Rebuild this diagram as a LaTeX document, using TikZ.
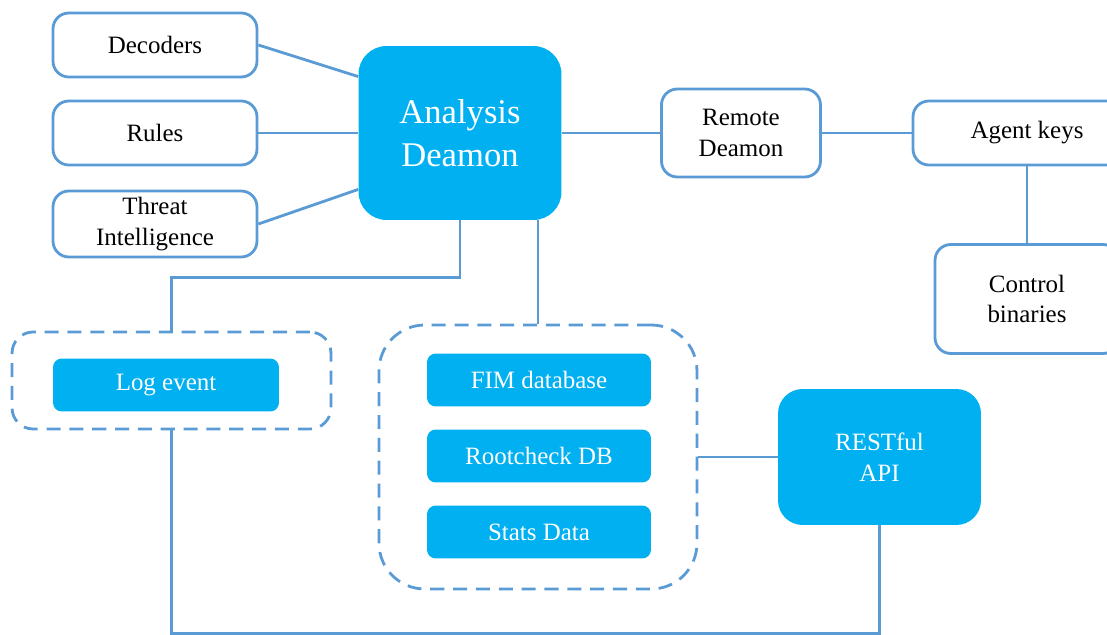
\documentclass[tikz,border=0pt]{standalone}
\usepackage{fontspec}
\setmainfont{Liberation Serif}
\newfontfamily\diagfont{Liberation Serif}
\usepackage{tikz}
\definecolor{edgeblue}{HTML}{5B9BD5}
\definecolor{fillcyan}{HTML}{00B0F0}
\tikzset{
    link/.style={draw=edgeblue, line width=1.6pt},
    whitebox/.style={draw=edgeblue, line width=1.6pt, fill=white, rounded corners=9pt, align=center, inner sep=0pt, font=\diagfont\fontsize{14.2}{17.6}\selectfont},
    cyanbox/.style={fill=fillcyan, text=white, rounded corners=5pt, align=center, inner sep=0pt, font=\diagfont\fontsize{14.2}{17.6}\selectfont},
    dashbox/.style={draw=edgeblue, line width=1.6pt, dash pattern=on 8pt off 5pt, rounded corners=12pt, inner sep=0pt}
}
\begin{document}
\begin{tikzpicture}[x=0.02cm, y=-0.02cm]
        \useasboundingbox (0,0) rectangle (1107,635);
        \node[whitebox, minimum width=4.08cm, minimum height=1.28cm] (dec) at (155,45) {Decoders};
        \node[whitebox, minimum width=4.08cm, minimum height=1.28cm] (rules) at (155,133) {Rules};
        \node[whitebox, minimum width=4.08cm, minimum height=1.32cm] (threat) at (155,224) {Threat\\Intelligence};
        \node[cyanbox, rounded corners=16pt, minimum width=4.06cm, minimum height=3.48cm, font=\diagfont\fontsize{19.7}{24.5}\selectfont] (ana) at (460,133) {Analysis\\Deamon};
        \node[whitebox, minimum width=3.18cm, minimum height=1.76cm] (remote) at (741,133) {Remote\\Deamon};
        \node[whitebox, minimum width=4.56cm, minimum height=1.28cm] (keys) at (1027,133) {Agent keys};
        \node[whitebox, minimum width=3.68cm, minimum height=2.18cm] (ctrl) at (1027,299) {Control\\binaries};
        \node[dashbox, minimum width=6.38cm, minimum height=1.94cm] (logbox) at (171.5,380.5) {};
        \node[cyanbox, minimum width=4.52cm, minimum height=1.06cm] (log) at (166,385) {Log event};
        \node[dashbox, rounded corners=26pt, minimum width=6.36cm, minimum height=5.28cm] (store) at (538,457) {};
        \node[cyanbox, minimum width=4.48cm, minimum height=1.06cm] (fim) at (539,380) {FIM database};
        \node[cyanbox, minimum width=4.48cm, minimum height=1.06cm] (root) at (539,456) {Rootcheck DB};
        \node[cyanbox, minimum width=4.48cm, minimum height=1.06cm] (stats) at (539,532) {Stats Data};
        \node[cyanbox, rounded corners=14pt, minimum width=4.06cm, minimum height=2.72cm] (rest) at (879.5,457) {RESTful\\API};
        \draw[link] (dec.east) -- (ana.151);
        \draw[link] (rules.east) -- (ana.west);
        \draw[link] (threat.east) -- (ana.209);
        \draw[link] (ana.east) -- (remote.west);
        \draw[link] (remote.east) -- (keys.west);
        \draw[link] (keys.south) -- (ctrl.north);
        \draw[link] (ana.south) -- ++(0,57) -| (logbox.north);
        \draw[link] (ana.south -| store.north) -- (store.north);
        \draw[link] (store.east) -- (rest.west);
        \draw[link] (logbox.south) -- ++(0,203) -| (rest.south);
    \end{tikzpicture}
\end{document}
